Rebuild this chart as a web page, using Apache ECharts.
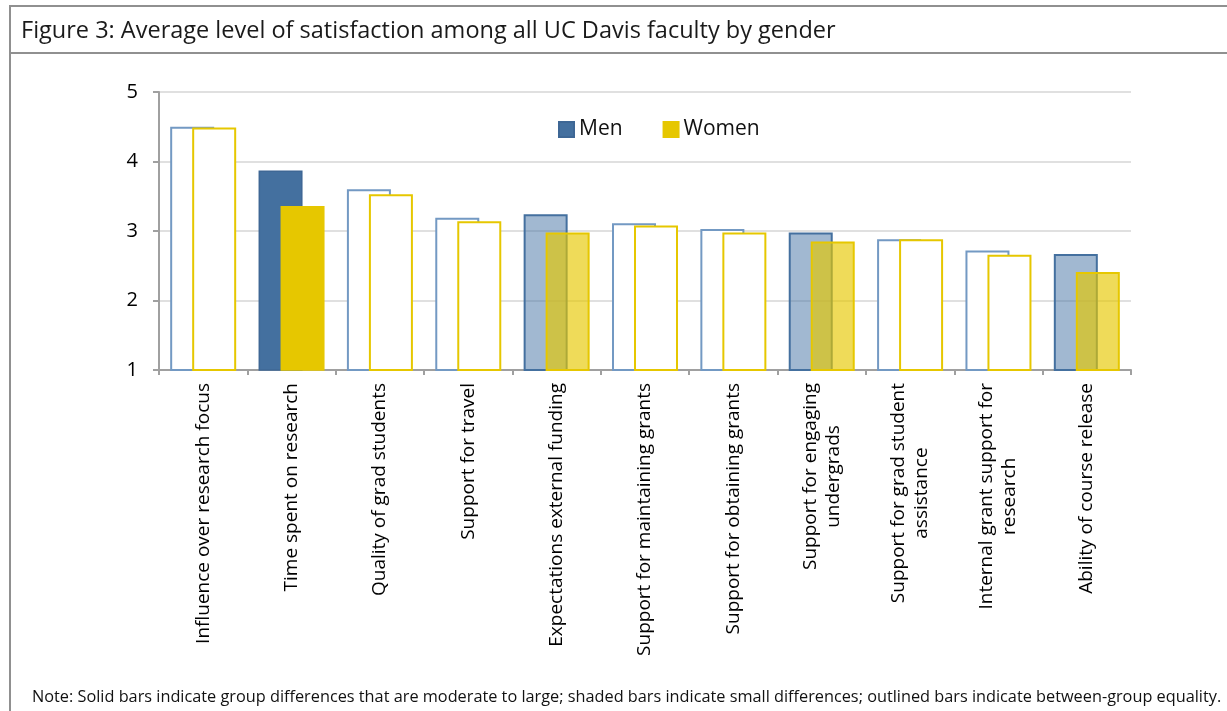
<!DOCTYPE html>
<html>
<head>
<meta charset="utf-8">
<script src="https://cdn.jsdelivr.net/npm/echarts@6/dist/echarts.min.js"></script>
<style>
  html, body { margin: 0; padding: 0; background: #fff; }
  #chart { width: 1227px; height: 711px; }
</style>
</head>
<body>
<div id="chart"></div>
<script>
// data
const categories = [
  'Influence over research focus',
  'Time spent on research',
  'Quality of grad students',
  'Support for travel',
  'Expectations external funding',
  'Support for maintaining grants',
  'Support for obtaining grants',
  'Support for engaging\nundergrads',
  'Support for grad student\nassistance',
  'Internal grant support for\nresearch',
  'Ability of course release'
];
const men   = [4.50, 3.87, 3.60, 3.19, 3.24, 3.11, 3.03, 2.98, 2.88, 2.72, 2.67];
const women = [4.49, 3.36, 3.53, 3.14, 2.98, 3.08, 2.98, 2.85, 2.88, 2.66, 2.41];
// solid = moderate/large difference, shaded = small, outline = equality
const barType = ['outline', 'solid', 'outline', 'outline', 'shaded', 'outline',
                 'outline', 'shaded', 'outline', 'outline', 'shaded'];
const yTicks = [1, 2, 3, 4, 5];

const FONT = '"Open Sans", Lato, sans-serif';
const note = 'Note: Solid bars indicate group differences that are moderate to large; shaded bars indicate small differences; outlined bars indicate between-group equality.';

const menStyle = {
  solid:   { color: '#44709f', borderColor: '#3e6795', borderWidth: 1.5 },
  shaded:  { color: 'rgba(68,114,164,0.5)', borderColor: '#44709f', borderWidth: 2 },
  outline: { color: '#ffffff', borderColor: '#7399c3', borderWidth: 2 }
};
const womenStyle = {
  solid:   { color: '#e6c700', borderColor: '#e6c700', borderWidth: 1.5 },
  shaded:  { color: 'rgba(230,199,0,0.65)', borderColor: '#e6c700', borderWidth: 2 },
  outline: { color: '#ffffff', borderColor: '#e6c700', borderWidth: 2 }
};

// fit the note to the width it takes in the figure
const ctx = document.createElement('canvas').getContext('2d');
ctx.font = '16px "Open Sans"';
let noteSize = 16 * 1190 / ctx.measureText(note).width;
if (!(noteSize > 12 && noteSize < 18)) noteSize = 15.2;

const chart = echarts.init(document.getElementById('chart'));
chart.setOption({
  animation: false,
  title: {
    text: 'Figure 3: Average level of satisfaction among all UC Davis faculty by gender',
    left: 16, top: 14,
    textStyle: { fontFamily: FONT, fontSize: 23.5, fontWeight: 'normal', color: '#1a1a1a' }
  },
  legend: {
    left: 553, top: 114,
    itemWidth: 15, itemHeight: 15, itemGap: 40,
    icon: 'rect',
    textStyle: { fontFamily: FONT, fontSize: 21, color: '#111' },
    data: ['Men', 'Women']
  },
  graphic: [
    { type: 'rect', shape: { x: 10, y: 6, width: 1240, height: 740 },
      style: { fill: 'none', stroke: '#909090', lineWidth: 2 }, silent: true },
    { type: 'line', shape: { x1: 10, y1: 53, x2: 1240, y2: 53 },
      style: { stroke: '#909090', lineWidth: 2 }, silent: true },
    { type: 'text', left: 32, top: 689,
      style: { text: note, fontFamily: FONT, fontSize: noteSize, fill: '#111' } }
  ],
  grid: { left: 159, right: 96, top: 92, bottom: 341, containLabel: false },
  xAxis: {
    type: 'category',
    data: categories,
    axisLine: { lineStyle: { color: '#a0a0a0', width: 2 } },
    axisTick: { show: true, length: 5, lineStyle: { color: '#a0a0a0', width: 2 } },
    axisLabel: {
      rotate: 90, margin: 13, interval: 0,
      fontFamily: FONT, fontSize: 19, color: '#000',
      formatter: v => v.split('\n').map(l => '{c|' + l + '}').join('\n'),
      rich: { c: { align: 'center', fontFamily: FONT, fontSize: 19, lineHeight: 23, color: '#000' } }
    }
  },
  yAxis: {
    type: 'value',
    min: yTicks[0], max: yTicks[yTicks.length - 1], interval: 1,
    axisLine: { show: true, lineStyle: { color: '#a0a0a0', width: 2 } },
    axisTick: { show: true, length: 6, lineStyle: { color: '#a0a0a0', width: 2 } },
    axisLabel: { margin: 21, fontFamily: FONT, fontSize: 20, color: '#000' },
    splitLine: { lineStyle: { color: '#e0e0e0', width: 2 } }
  },
  series: [
    {
      name: 'Men', type: 'bar', barWidth: 44, barGap: '-50%',
      itemStyle: { color: '#44709f', borderColor: '#3e6795', borderWidth: 1 },
      data: men.map((v, i) => ({ value: v, itemStyle: menStyle[barType[i]] }))
    },
    {
      name: 'Women', type: 'bar', barWidth: 44, barGap: '-50%',
      itemStyle: { color: '#e6c700', borderColor: '#e6c700', borderWidth: 1 },
      data: women.map((v, i) => ({ value: v, itemStyle: womenStyle[barType[i]] }))
    }
  ]
});
</script>
</body>
</html>
